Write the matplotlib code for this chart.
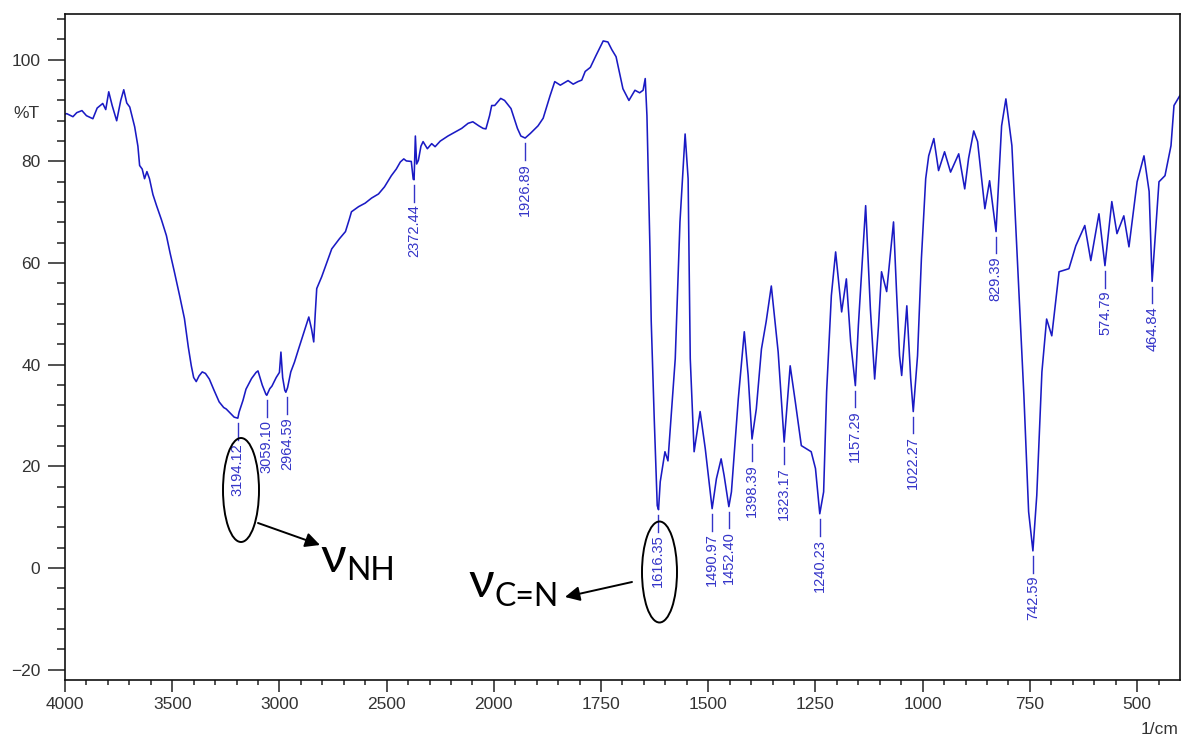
import numpy as np
import matplotlib
matplotlib.use("Agg")
import matplotlib.pyplot as plt
from matplotlib.patches import Ellipse
from matplotlib.ticker import FixedLocator, MultipleLocator

# ---------------- data ----------------
wavenumber = [4000, 3992, 3963, 3945, 3921, 3900, 3870, 3850, 3824, 3810, 3796, 3780,
              3759, 3740, 3726, 3712, 3698, 3675, 3660, 3652, 3640, 3629, 3618, 3606,
              3590, 3573, 3550, 3527, 3510, 3490, 3465, 3443, 3425, 3411, 3400, 3388,
              3375, 3360, 3345, 3327, 3305, 3281, 3260, 3248, 3225, 3211, 3194, 3188,
              3170, 3156, 3130, 3109, 3100, 3080, 3063, 3059, 3045, 3035, 3015, 3000,
              2993, 2985, 2975, 2970, 2962, 2947, 2930, 2910, 2885, 2863, 2850, 2840,
              2833, 2826, 2803, 2780, 2756, 2720, 2692, 2675, 2664, 2631, 2600, 2570,
              2538, 2510, 2478, 2455, 2436, 2420, 2408, 2385, 2376, 2372, 2366, 2360,
              2352, 2340, 2330, 2310, 2290, 2274, 2250, 2214, 2180, 2150, 2120, 2098,
              2070, 2050, 2037, 2020, 2010, 1998, 1984, 1975, 1960, 1945, 1937, 1927,
              1915, 1897, 1885, 1869, 1858, 1845, 1827, 1815, 1804, 1795, 1787, 1775,
              1762, 1745, 1734, 1725, 1715, 1699, 1685, 1671, 1660, 1652, 1647, 1643,
              1636, 1633, 1626, 1619, 1616, 1612, 1601, 1594, 1587, 1577, 1566, 1554,
              1547, 1542, 1533, 1524, 1519, 1507, 1491, 1481, 1470, 1463, 1452, 1446,
              1430, 1416, 1407, 1398, 1388, 1376, 1365, 1353, 1337, 1323, 1309, 1297,
              1283, 1260, 1250, 1240, 1231, 1224, 1213, 1203, 1189, 1178, 1168, 1157,
              1150, 1133, 1122, 1112, 1103, 1096, 1084, 1068, 1061, 1054, 1049, 1037,
              1028, 1022, 1012, 1003, 993, 986, 974, 963, 949, 935, 916, 902,
              893, 881, 872, 855, 844, 829, 816, 806, 792, 776, 764, 753,
              743, 734, 722, 711, 699, 682, 659, 643, 622, 608, 589, 575,
              559, 547, 531, 519, 500, 484, 472, 465, 449, 435, 421, 414,
              407, 400]
transmittance = [89.3, 89.4, 88.8, 89.6, 90.0, 89.0, 88.4, 90.5, 91.4, 90.2, 93.7, 91.0,
                 88.0, 92.0, 94.1, 91.5, 90.7, 86.8, 83.0, 79.2, 78.5, 76.6, 78.0, 76.6,
                 73.5, 71.3, 68.5, 65.4, 62.0, 58.3, 53.5, 49.1, 43.5, 39.8, 37.5, 36.7,
                 37.8, 38.6, 38.3, 37.2, 35.0, 32.7, 31.6, 31.3, 30.3, 29.7, 29.5, 30.7,
                 33.0, 35.2, 37.3, 38.5, 38.8, 36.0, 34.2, 34.0, 35.3, 35.8, 37.5, 38.5,
                 42.5, 37.5, 35.0, 34.6, 35.5, 38.6, 40.5, 43.2, 46.5, 49.4, 47.0, 44.5,
                 50.0, 55.0, 57.3, 60.0, 62.8, 64.8, 66.2, 68.5, 70.1, 71.1, 71.8, 72.8,
                 73.6, 75.0, 77.2, 78.5, 79.9, 80.5, 80.1, 80.0, 76.5, 76.4, 85.0, 79.5,
                 80.2, 83.0, 83.9, 82.5, 83.5, 82.9, 84.0, 85.0, 85.8, 86.5, 87.5, 87.8,
                 87.0, 86.5, 86.4, 89.0, 91.0, 91.0, 92.4, 92.0, 90.4, 86.5, 85.0, 84.6,
                 85.5, 87.0, 88.5, 92.9, 95.7, 95.0, 95.9, 95.2, 95.7, 96.0, 97.7, 98.5,
                 100.8, 103.7, 103.5, 102.0, 100.6, 94.3, 92.0, 94.0, 93.5, 94.0, 96.3, 89.0,
                 62.9, 48.5, 29.4, 12.3, 11.5, 17.0, 22.9, 21.1, 29.4, 41.2, 68.1, 85.4,
                 76.6, 41.2, 22.9, 28.0, 30.8, 23.5, 11.7, 17.6, 21.5, 18.2, 12.1, 15.0,
                 33.3, 46.5, 37.9, 25.4, 31.3, 43.1, 48.5, 55.5, 42.5, 24.8, 39.8, 32.7,
                 24.1, 22.9, 19.6, 10.7, 15.0, 34.7, 53.6, 62.2, 50.4, 56.9, 44.5, 35.9,
                 47.7, 71.3, 51.0, 37.2, 47.7, 58.3, 54.4, 68.1, 54.4, 41.8, 37.9, 51.6,
                 37.3, 30.8, 41.8, 60.9, 76.6, 81.1, 84.5, 78.2, 81.9, 77.9, 81.5, 74.6,
                 80.6, 86.0, 83.9, 70.7, 76.2, 66.2, 87.0, 92.3, 83.1, 55.0, 33.9, 11.1,
                 3.4, 14.3, 38.6, 49.0, 45.7, 58.3, 58.9, 63.4, 67.4, 60.5, 69.7, 59.5,
                 72.1, 65.8, 69.3, 63.2, 76.0, 81.1, 74.1, 56.4, 76.0, 77.2, 83.1, 91.0,
                 92.0, 93.0]

peak_positions = [3194.12, 3059.10, 2964.59, 2372.44, 1926.89, 1616.35, 1490.97, 1452.40,
                  1398.39, 1323.17, 1240.23, 1157.29, 1022.27, 829.39, 742.59, 574.79, 464.84]
peak_labels = ["3194.12", "3059.10", "2964.59", "2372.44", "1926.89", "1616.35", "1490.97",
               "1452.40", "1398.39", "1323.17", "1240.23", "1157.29", "1022.27", "829.39",
               "742.59", "574.79", "464.84"]
peak_minima = [29.5, 34.0, 34.6, 76.4, 84.6, 11.5, 11.7, 12.1, 25.4, 24.8, 10.7, 35.9,
               30.8, 66.2, 3.4, 59.5, 56.4]

x_major = [4000, 3500, 3000, 2500, 2000, 1750, 1500, 1250, 1000, 750, 500]
x_major_labels = ["4000", "3500", "3000", "2500", "2000", "1750", "1500", "1250", "1000", "750", "500"]
y_major = [-20, 0, 20, 40, 60, 80, 100]

# ---------------- figure ----------------
W, H = 1181, 740
fig = plt.figure(figsize=(W / 100, H / 100), dpi=100)
ax = fig.add_axes([65 / W, 1 - 680 / H, (1180 - 65) / W, (680 - 14) / H])

def fwd(x):
    x = np.asarray(x, dtype=float)
    return np.where(x <= 2000, x, 2000 + (x - 2000) / 2.0)

def inv(u):
    u = np.asarray(u, dtype=float)
    return np.where(u <= 2000, u, 2000 + (u - 2000) * 2.0)

ax.set_xscale("function", functions=(fwd, inv))

line_color = "#1a1ac4"
label_color = "#3434c8"
ax.plot(wavenumber, transmittance, color=line_color, lw=1.15)

for xp, lab, tm in zip(peak_positions, peak_labels, peak_minima):
    ax.plot([xp, xp], [tm - 1.0, tm - 4.3], color=label_color, lw=1.0)
    ax.text(xp, tm - 4.9, lab, rotation=90, ha="center", va="top", color=label_color,
            fontsize=10.5, family="Liberation Sans")

ax.set_xlim(4000, 400)
ax.set_ylim(-22, 109)

ax.xaxis.set_major_locator(FixedLocator(x_major))
ax.set_xticklabels(x_major_labels)
minor_x = list(range(3900, 2000, -100)) + list(range(1950, 400, -50))
ax.xaxis.set_minor_locator(FixedLocator(minor_x))
ax.yaxis.set_major_locator(FixedLocator(y_major))
ax.yaxis.set_minor_locator(MultipleLocator(4))

tick_col = "#333333"
ax.tick_params(axis="x", which="major", length=8.6, width=1.1, pad=3.6, labelsize=12.5,
               colors="#222222", labelcolor=tick_col)
ax.tick_params(axis="x", which="minor", length=3.8, width=1.1, colors="#222222")
ax.tick_params(axis="y", which="major", length=12.2, width=1.1, pad=5.5, labelsize=12.5,
               colors="#222222", labelcolor=tick_col)
ax.tick_params(axis="y", which="minor", length=5.8, width=1.1, colors="#222222")
for lab in ax.get_xticklabels() + ax.get_yticklabels():
    lab.set_family("Liberation Sans")
for sp in ax.spines.values():
    sp.set_linewidth(1.2)
    sp.set_color("#111111")

fig.text(40 / W, 1 - 113 / H, "%T", ha="right", va="center", fontsize=12.5,
         color=tick_col, family="Liberation Sans")
fig.text(1178 / W, 1 - 729 / H, "1/cm", ha="right", va="center", fontsize=12.5,
         color=tick_col, family="Liberation Sans")

# ---------------- annotations ----------------
fig.add_artist(Ellipse((241 / W, 1 - 490 / H), 36 / W, 104 / H, transform=fig.transFigure,
                       fill=False, ec="black", lw=1.4))
fig.add_artist(Ellipse((659.5 / W, 1 - 572 / H), 35 / W, 101 / H, transform=fig.transFigure,
                       fill=False, ec="black", lw=1.4))

ax.annotate("", xy=(320, H - 545), xytext=(258, H - 523), xycoords="figure pixels",
            textcoords="figure pixels",
            arrowprops=dict(arrowstyle="-|>", color="black", lw=1.4, mutation_scale=22,
                            shrinkA=0, shrinkB=0))
ax.annotate("", xy=(565, H - 597), xytext=(632, H - 582), xycoords="figure pixels",
            textcoords="figure pixels",
            arrowprops=dict(arrowstyle="-|>", color="black", lw=1.4, mutation_scale=22,
                            shrinkA=0, shrinkB=0))

fam = ["Lato", "DejaVu Sans"]
fig.text(320 / W, 1 - 572 / H, "ν", ha="left", va="baseline", fontsize=36, family=fam)
fig.text(346 / W, 1 - 580 / H, "NH", ha="left", va="baseline", fontsize=23, family=fam)
fig.text(468 / W, 1 - 597 / H, "ν", ha="left", va="baseline", fontsize=36, family=fam)
fig.text(495 / W, 1 - 606 / H, "C=N", ha="left", va="baseline", fontsize=23, family=fam)

fig.savefig("out.png", dpi=100)
